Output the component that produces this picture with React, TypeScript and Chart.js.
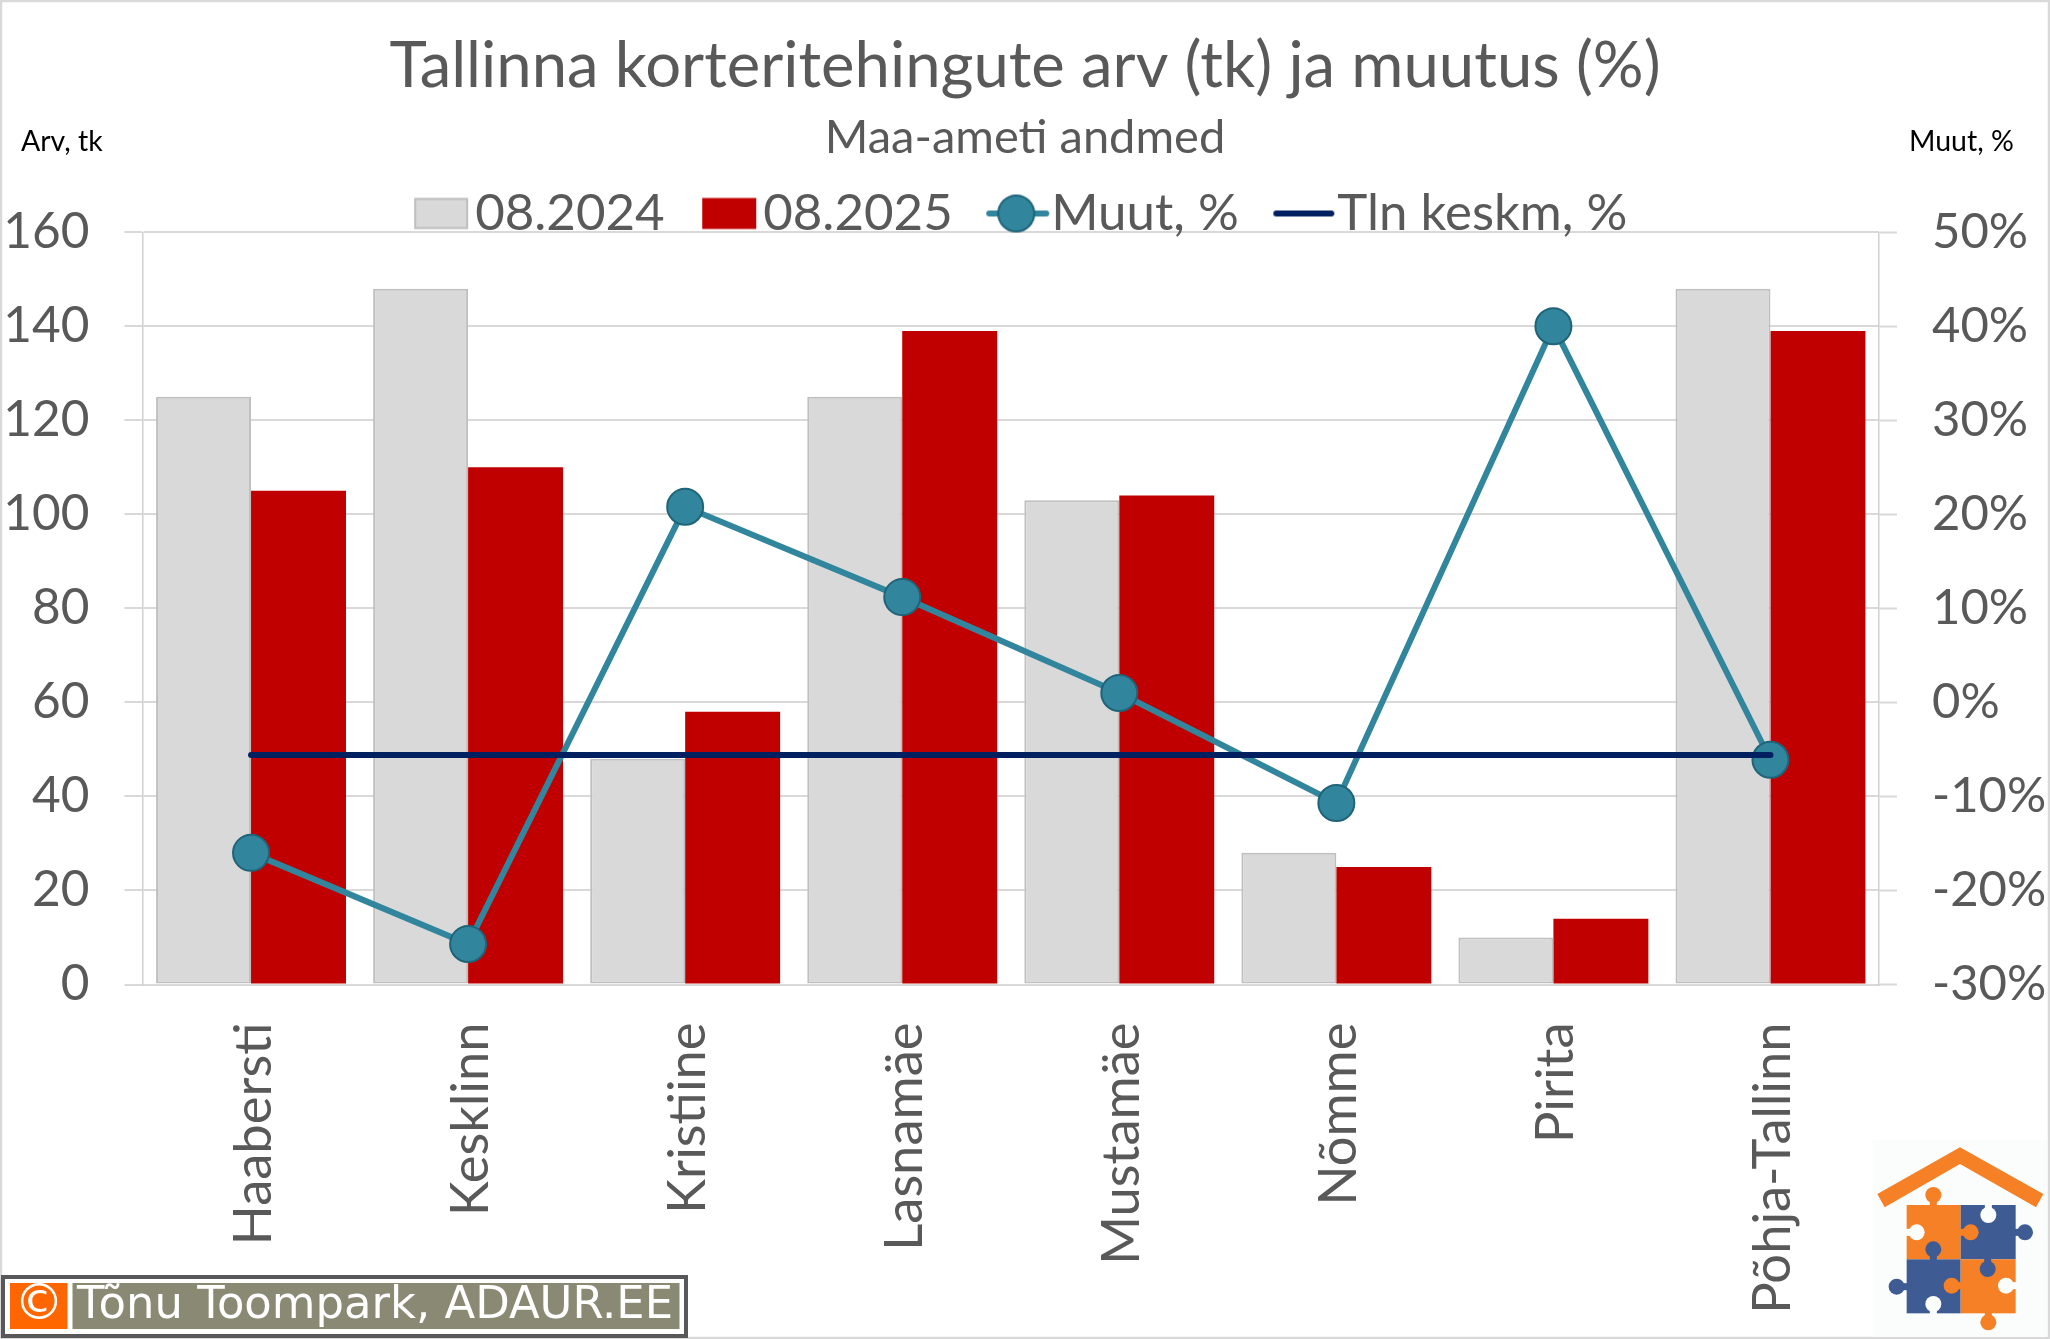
import React, { useEffect, useRef } from "react";
import { Chart, registerables } from "chart.js";

Chart.register(...registerables);

const districts = ["Haabersti", "Kesklinn", "Kristiine", "Lasnamäe", "Mustamäe", "Nõmme", "Pirita", "Põhja-Tallinn"];
const deals2024 = [125, 148, 48, 125, 103, 28, 10, 148];
const deals2025 = [105, 110, 58, 139, 104, 25, 14, 139];
const changePct = [-16, -25.7, 20.8, 11.2, 1, -10.7, 40, -6.1];
const cityAvgPct = [-5.6, -5.6, -5.6, -5.6, -5.6, -5.6, -5.6, -5.6];

const titleText = "Tallinna korteritehingute arv (tk) ja muutus (%)";
const subtitleText = "Maa-ameti andmed";
const leftUnit = "Arv, tk";
const rightUnit = "Muut, %";
const creditText = "Tõnu Toompark, ADAUR.EE";

const FONT = "Lato, Carlito, sans-serif";
const GREY_TEXT = "#595959";
const GRID = "#D9D9D9";
const TEAL = "#31859C";
const NAVY = "#002060";
const RED = "#C00000";
const WARM = "#F58025";
const BLUE = "#3F5B93";

function makeIcon(draw: (c: CanvasRenderingContext2D, ox: number, cy: number) => void) {
  const cv = document.createElement("canvas");
  cv.width = 100;
  cv.height = 48;
  const c = cv.getContext("2d")!;
  draw(c, 32, 24);
  return cv;
}

function drawLogo(ctx: CanvasRenderingContext2D) {
  const X = (v: number) => 1850 + v / 3;
  const Y = (v: number) => 1120 + v / 3;
  const R = 8;
  ctx.save();
  ctx.fillStyle = "#FBFDFC";
  ctx.fillRect(X(68), Y(60), 2047 - X(68), 1337 - Y(60));
  ctx.fillStyle = WARM;
  ctx.beginPath();
  [[82, 222], [330, 82], [580, 222], [558, 262], [330, 132], [104, 262]].forEach(([a, b], i) =>
    i ? ctx.lineTo(X(a), Y(b)) : ctx.moveTo(X(a), Y(b))
  );
  ctx.closePath();
  ctx.fill();
  const rect = (col: string, a: number, b: number, w: number, h: number) => {
    ctx.fillStyle = col;
    ctx.fillRect(X(a), Y(b), w / 3, h / 3);
  };
  rect(WARM, 170, 255, 162, 163);
  rect(BLUE, 332, 255, 165, 163);
  rect(BLUE, 170, 418, 162, 162);
  rect(WARM, 332, 418, 165, 162);
  const knob = (col: string, a: number, b: number, c: number, d: number) => {
    ctx.strokeStyle = col;
    ctx.lineWidth = 7;
    ctx.beginPath();
    ctx.moveTo(X(c), Y(d));
    ctx.lineTo(X(a), Y(b));
    ctx.stroke();
    ctx.fillStyle = col;
    ctx.beginPath();
    ctx.arc(X(a), Y(b), R, 0, Math.PI * 2);
    ctx.fill();
  };
  knob(WARM, 250, 225, 250, 258);
  knob(WARM, 362, 337, 330, 337);
  knob(BLUE, 525, 337, 495, 337);
  knob(BLUE, 250, 388, 250, 420);
  knob(BLUE, 140, 500, 172, 500);
  knob(WARM, 305, 497, 335, 497);
  knob(BLUE, 413, 447, 413, 416);
  knob(WARM, 415, 607, 415, 578);
  knob("#FBFDFC", 200, 337, 168, 337);
  knob("#FBFDFC", 415, 285, 415, 253);
  knob("#FBFDFC", 468, 497, 499, 497);
  knob("#FBFDFC", 250, 552, 250, 582);
  ctx.restore();
}

function drawCredit(ctx: CanvasRenderingContext2D) {
  ctx.save();
  ctx.fillStyle = "#58585A";
  ctx.fillRect(1, 1275, 687, 63);
  ctx.fillStyle = "#FFFFFF";
  ctx.fillRect(5, 1279, 679, 55);
  ctx.fillStyle = "#FF6600";
  ctx.fillRect(10, 1283, 57.5, 46);
  ctx.fillStyle = "#8A8A74";
  ctx.fillRect(72.5, 1283, 607, 46);
  ctx.fillStyle = "#FFFFFF";
  ctx.textBaseline = "middle";
  ctx.textAlign = "center";
  ctx.font = "normal 50px 'DejaVu Sans'";
  ctx.fillText("©", 39, 1306);
  ctx.textAlign = "left";
  ctx.font = "normal 45px 'DejaVu Sans'";
  ctx.fillText(creditText, 77, 1306, 596);
  ctx.restore();
}

const decorPlugin = {
  id: "decor",
  beforeLayout(chart: any) {
    const l = chart.legend;
    if (l && !l.__patched) {
      const fit = l.fit.bind(l);
      l.fit = () => {
        fit();
        l.height = 0;
      };
      l.__patched = true;
    }
  },
  afterLayout(chart: any) {
    const l = chart.legend;
    l.top = 150;
    l.bottom = 280;
    l.left = -4;
    l.right = 2046;
  },
  beforeDraw(chart: any) {
    const ctx = chart.ctx;
    ctx.save();
    ctx.fillStyle = "#FFFFFF";
    ctx.fillRect(0, 0, chart.width, chart.height);
    ctx.restore();
  },
  afterDraw(chart: any) {
    const ctx = chart.ctx;
    ctx.save();
    ctx.strokeStyle = GRID;
    ctx.lineWidth = 2.5;
    ctx.strokeRect(1, 1, chart.width - 2, chart.height - 2);
    ctx.fillStyle = "#000000";
    ctx.font = `normal 28.5px ${FONT}`;
    ctx.textBaseline = "middle";
    ctx.textAlign = "left";
    ctx.fillText(leftUnit, 21, 142);
    ctx.fillText(rightUnit, 1909, 142);
    ctx.restore();
    drawLogo(ctx);
    drawCredit(ctx);
  },
};

export default function App() {
  const ref = useRef<HTMLCanvasElement | null>(null);

  useEffect(() => {
    const icons = [
      makeIcon((c, ox, cy) => {
        c.fillStyle = GRID;
        c.fillRect(ox, cy - 15.5, 54, 31);
        c.strokeStyle = "#BFBFBF";
        c.lineWidth = 2;
        c.strokeRect(ox + 1, cy - 14.5, 52, 29);
      }),
      makeIcon((c, ox, cy) => {
        c.fillStyle = RED;
        c.fillRect(ox, cy - 15.5, 54, 31);
      }),
      makeIcon((c, ox, cy) => {
        c.strokeStyle = TEAL;
        c.lineWidth = 6;
        c.lineCap = "round";
        c.beginPath();
        c.moveTo(ox - 1, cy);
        c.lineTo(ox + 56, cy);
        c.stroke();
        c.fillStyle = TEAL;
        c.strokeStyle = "#1F6478";
        c.lineWidth = 2;
        c.beginPath();
        c.arc(ox + 26, cy, 18, 0, Math.PI * 2);
        c.fill();
        c.stroke();
      }),
      makeIcon((c, ox, cy) => {
        c.strokeStyle = NAVY;
        c.lineWidth = 6;
        c.lineCap = "round";
        c.beginPath();
        c.moveTo(ox, cy);
        c.lineTo(ox + 55, cy);
        c.stroke();
      }),
    ];

    const chart = new Chart(ref.current!, {
      type: "bar",
      data: {
        labels: districts,
        datasets: [
          {
            type: "bar",
            label: "08.2024",
            data: deals2024,
            yAxisID: "y",
            order: 3,
            backgroundColor: GRID,
            borderColor: "#BFBFBF",
            borderWidth: 2,
            borderSkipped: false,
            categoryPercentage: 0.875,
            barPercentage: 1,
          },
          {
            type: "bar",
            label: "08.2025",
            data: deals2025,
            yAxisID: "y",
            order: 4,
            backgroundColor: RED,
            borderWidth: 0,
            categoryPercentage: 0.875,
            barPercentage: 1,
          },
          {
            type: "line",
            label: "Muut, %",
            data: changePct,
            yAxisID: "y1",
            order: 2,
            borderColor: TEAL,
            borderWidth: 6,
            tension: 0,
            pointRadius: 18,
            pointBackgroundColor: TEAL,
            pointBorderColor: "#1F6478",
            pointBorderWidth: 2,
          },
          {
            type: "line",
            label: "Tln keskm, %",
            data: cityAvgPct,
            yAxisID: "y1",
            order: 1,
            borderColor: NAVY,
            borderWidth: 6,
            borderCapStyle: "round",
            pointRadius: 0,
          },
        ],
      } as any,
      options: {
        animation: false,
        responsive: false,
        devicePixelRatio: 1,
        layout: { padding: 0 },
        plugins: {
          tooltip: { enabled: false },
          title: {
            display: true,
            text: titleText,
            color: GREY_TEXT,
            font: { family: FONT, size: 63.4, weight: "normal", lineHeight: 1.2 },
            padding: { top: 29, bottom: 0 },
          },
          subtitle: {
            display: true,
            text: subtitleText,
            color: GREY_TEXT,
            font: { family: FONT, size: 47, weight: "normal", lineHeight: 1.2 },
            padding: { top: 4.6, bottom: 66.2 },
          },
          legend: {
            display: true,
            position: "top",
            labels: {
              color: GREY_TEXT,
              font: { family: FONT, size: 51, weight: "normal" },
              usePointStyle: true,
              pointStyleWidth: 35,
              padding: 38,
              generateLabels: (c: any) =>
                c.data.datasets.map((d: any, i: number) => ({
                  text: d.label,
                  datasetIndex: i,
                  pointStyle: icons[i],
                  fontColor: GREY_TEXT,
                  hidden: false,
                  lineWidth: 0,
                })),
            },
          },
        },
        scales: {
          x: {
            offset: true,
            grid: { display: false, drawTicks: false },
            border: { display: true, color: GRID, width: 2 },
            afterFit: (s: any) => {
              s.height = 354.5;
            },
            ticks: {
              color: GREY_TEXT,
              font: { family: FONT, size: 52.5 },
              maxRotation: 90,
              minRotation: 90,
              padding: 38,
              labelOffset: 3,
              autoSkip: false,
            },
          },
          y: {
            position: "left",
            min: 0,
            max: 160,
            afterFit: (s: any) => {
              s.width = 142.5;
            },
            grid: { color: GRID, lineWidth: 2, tickLength: 18, tickColor: GRID, tickWidth: 2 },
            border: { display: true, color: "#D0D0D0", width: 1.5 },
            ticks: {
              stepSize: 20,
              color: GREY_TEXT,
              font: { family: FONT, size: 49.5 },
              padding: 35,
            },
          },
          y1: {
            position: "right",
            min: -30,
            max: 50,
            afterFit: (s: any) => {
              s.width = 171;
            },
            grid: { drawOnChartArea: false, tickLength: 18, tickColor: GRID, tickWidth: 2 },
            border: { display: true, color: "#D0D0D0", width: 1.5 },
            ticks: {
              stepSize: 10,
              color: GREY_TEXT,
              font: { family: FONT, size: 49 },
              padding: 35,
              callback: (v: any) => `${v}%`,
            },
          },
        },
      } as any,
      plugins: [decorPlugin],
    } as any);
    return () => chart.destroy();
  }, []);

  return (
    <canvas
      ref={ref}
      width={2050}
      height={1339}
      style={{ position: "fixed", left: 0, top: 0, width: 2050, height: 1339, display: "block" }}
    />
  );
}
